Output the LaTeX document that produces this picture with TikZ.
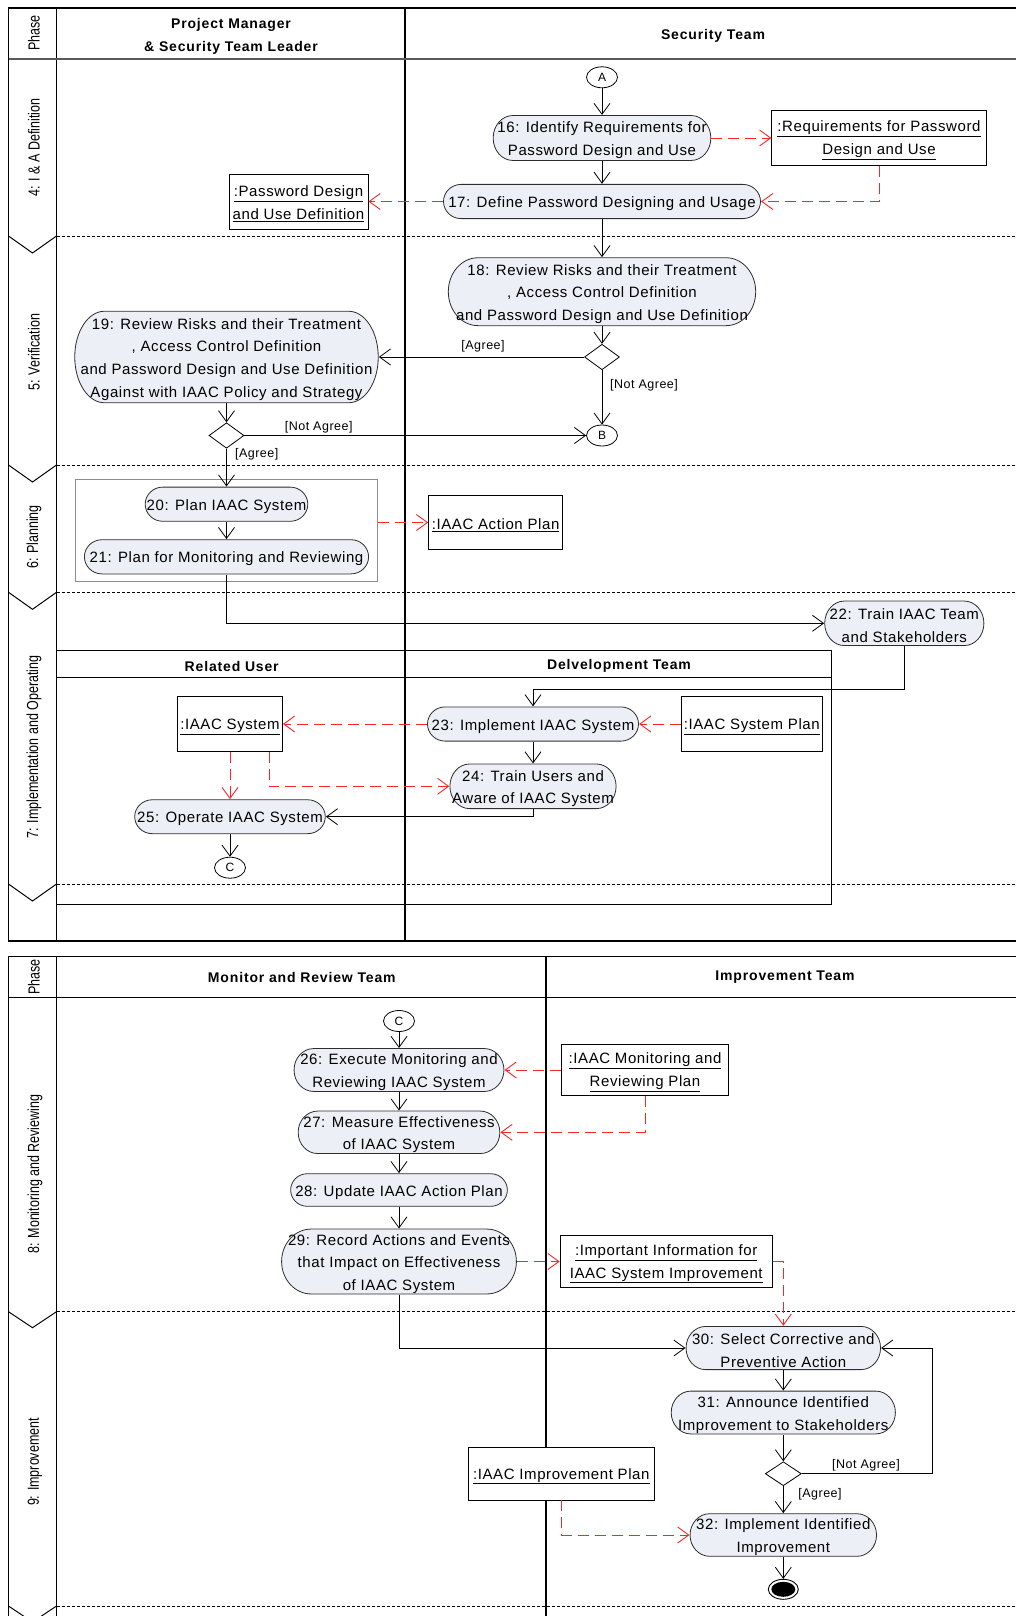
\documentclass[tikz,border=0pt]{standalone}
\usepackage{graphicx}
\usepackage{fontspec}
\setmainfont{Liberation Sans}[LetterSpace=4]
\newfontfamily\headfont{Liberation Sans}[LetterSpace=6]
\newfontfamily\narrowfont{Liberation Sans}
\usetikzlibrary{arrows.meta,shapes.geometric,calc}

\definecolor{actfill}{RGB}{236,239,245}
\definecolor{actline}{RGB}{45,45,45}
\definecolor{depred}{RGB}{245,40,40}
\definecolor{grpline}{RGB}{140,140,140}
\definecolor{hdrline}{RGB}{90,90,90}

\tikzset{
  txt/.style={font=\fontsize{15}{22.7}\selectfont, align=center},
  % activity: rectangle node whose stadium outline is painted by a path picture
  act/.style n args={3}{txt, rectangle, inner sep=0pt, minimum width=#1, minimum height=#2,
    /utils/exec={\def\actrx{#3}},
    path picture={
      \path[draw=actline, fill=actfill, line width=0.8pt]
        let \p1=(path picture bounding box.south west),
            \p2=(path picture bounding box.north east) in
        (\x1+\actrx,\y2-0.4pt) -- (\x2-\actrx,\y2-0.4pt)
        arc[start angle=90, end angle=-90, x radius=\actrx-0.4pt, y radius={(\y2-\y1)/2-0.4pt}]
        -- (\x1+\actrx,\y1+0.4pt)
        arc[start angle=270, end angle=90, x radius=\actrx-0.4pt, y radius={(\y2-\y1)/2-0.4pt}]
        -- cycle;
    }},
  obj/.style={txt, rectangle, draw=black, line width=0.9pt, fill=white, inner sep=0pt},
  dia/.style={diamond, draw=black, line width=0.8pt, fill=white, minimum width=35pt, minimum height=25.5pt, inner sep=0pt},
  circ/.style={ellipse, draw=black, line width=0.8pt, fill=white, minimum width=31pt, minimum height=21pt, inner sep=0pt, font=\fontsize{12}{14}\selectfont},
  grpbox/.style={rectangle, draw=grpline, line width=0.9pt, inner sep=0pt},
  hdr/.style={font=\headfont\fontsize{14}{23}\selectfont\bfseries, align=center, inner sep=0pt},
  phaselbl/.style={rotate=90, font=\narrowfont\fontsize{16}{18}\selectfont, inner sep=0pt},
  grd/.style={font=\fontsize{12.5}{15}\selectfont, inner sep=1pt},
  frame/.style={draw=black, line width=1.3pt},
  sepline/.style={draw=black, line width=0.7pt, dash pattern=on 3pt off 2pt},
  chevron/.style={draw=black, line width=1pt},
  flow/.style={draw=black, line width=0.8pt, -{Straight Barb[length=11pt, width=16pt, line width=0.8pt]}},
  dep/.style={draw=depred, line width=0.9pt, dash pattern=on 11pt off 6pt, -{Straight Barb[length=11pt, width=16pt, line width=0.9pt]}},
}
\newcommand{\narrow}[1]{\scalebox{0.78}[1]{#1}}
% invisible strut that lowers the text block a little inside its shape
\newcommand{\txtstrut}{\rule{0pt}{15.5pt}}

\begin{document}
\begin{tikzpicture}[x=1pt, y=-1pt]
\useasboundingbox (0,0) rectangle (1015,1616);

% ---------- upper swimlane frame ----------
\draw[frame] (1016,8) -- (8.5,8) -- (8.5,941) -- (1016,941);
\draw[frame] (56.5,8) -- (56.5,941);
\draw[frame] (405,8) -- (405,941);
\draw[line width=1.3pt, draw=hdrline] (8.5,59) -- (1016,59);
\foreach \yy in {236,465,592.3,884}{
  \draw[sepline] (56.5,\yy) -- (1016,\yy);
  \draw[chevron] (8.5,\yy) -- (32.5,\yy+17) -- (56.5,\yy);
}
% nested lanes
\draw[line width=1pt] (56.5,650.7) rectangle (831.6,904);
\draw[line width=1pt] (56.5,677.7) -- (831.6,677.7);

% ---------- lower swimlane frame ----------
\draw[frame] (1016,956.5) -- (8.5,956.5) -- (8.5,1630);
\draw[frame] (56.5,956.5) -- (56.5,1630);
\draw[frame] (546,956.5) -- (546,1630);
\draw[frame] (8.5,997.3) -- (1016,997.3);
\foreach \yy in {1311.7,1606}{
  \draw[sepline] (56.5,\yy) -- (1016,\yy);
  \draw[chevron] (8.5,\yy) -- (32.5,\yy+16) -- (56.5,\yy);
}

% ---------- headers ----------
\node[hdr] (hPM) at (231,36.5) {Project Manager\\\& Security Team Leader};
\node[hdr] (hST) at (713,35.5) {Security Team};
\node[hdr] (hRU) at (231.7,666) {Related User};
\node[hdr] (hDT) at (619,666) {Delvelopment Team};
\node[hdr] (hMR) at (301.8,977) {Monitor and Review Team};
\node[hdr] (hIT) at (785,977) {Improvement Team};

% ---------- phase labels ----------
\node[phaselbl] (p0) at (34,33) {\narrow{Phase}};
\node[phaselbl] (p4) at (34,147.5) {\narrow{4: I \& A Definition}};
\node[phaselbl] (p5) at (34,352) {\narrow{5: Verification}};
\node[phaselbl] (p6) at (34,537) {\narrow{6: Planning}};
\node[phaselbl] (p7) at (34,747) {\narrow{7: Implementation and Operating}};
\node[phaselbl] (q0) at (34,977) {\narrow{Phase}};
\node[phaselbl] (p8) at (35,1174) {\narrow{8: Monitoring and Reviewing}};
\node[phaselbl] (p9) at (35,1462) {\narrow{9: Improvement}};

% ---------- phase 4 ----------
\node[circ] (A) at (602,77.3) {A};
\node[act={218.5pt}{45.7pt}{20pt}] (n16) at (602,138) {\txtstrut16: Identify Requirements for\\Password Design and Use};
\node[obj, minimum width=214.5pt, minimum height=54.3pt] (reqbox) at (879,138) {\txtstrut\underline{:Requirements for Password}\\\underline{Design and Use}};
\node[act={317.8pt}{35pt}{18pt}] (n17) at (602,201.5) {\txtstrut17: Define Password Designing and Usage};
\node[obj, minimum width=139pt, minimum height=55pt] (pwbox) at (298.5,201.5) {\txtstrut\underline{:Password Design}\\\underline{and Use Definition}};

% ---------- phase 5 ----------
\node[act={308.2pt}{68.7pt}{30pt}] (n18) at (602,291.7) {\txtstrut18: Review Risks and their Treatment\\, Access Control Definition\\and Password Design and Use Definition};
\node[dia] (d18) at (602,357) {};
\node[act={304.3pt}{92.3pt}{30pt}] (n19) at (226.5,357) {\txtstrut19: Review Risks and their Treatment\\, Access Control Definition\\and Password Design and Use Definition\\Against with IAAC Policy and Strategy};
\node[circ] (B) at (602,435.5) {B};
\node[dia] (d19) at (226.5,435.5) {};
\node[grd] (g1) at (483,346.5) {[Agree]};
\node[grd, anchor=west] (g2) at (609,385) {[Not Agree]};
\node[grd] (g3) at (318.7,427.5) {[Not Agree]};
\node[grd] (g4) at (256.7,454.5) {[Agree]};

% ---------- phase 6 ----------
\node[grpbox, minimum width=302pt, minimum height=102pt] (grp) at (226.5,530) {};
\node[act={163.4pt}{35pt}{18pt}] (n20) at (226.5,504.2) {\txtstrut20: Plan IAAC System};
\node[act={285pt}{35pt}{18pt}] (n21) at (226.5,556.8) {\txtstrut21: Plan for Monitoring and Reviewing};
\node[obj, minimum width=134pt, minimum height=54.3pt] (actplan) at (495.6,522.5) {\txtstrut\underline{:IAAC Action Plan}};

% ---------- phase 7 ----------
\node[act={160pt}{45.3pt}{20pt}] (n22) at (904.3,623.3) {\txtstrut22: Train IAAC Team\\and Stakeholders};
\node[act={211.8pt}{35pt}{18pt}] (n23) at (533,724) {\txtstrut23: Implement IAAC System};
\node[obj, minimum width=105pt, minimum height=54.3pt] (sysbox) at (230,724) {\txtstrut\underline{:IAAC System}};
\node[obj, minimum width=141.7pt, minimum height=54.3pt] (sysplan) at (751.8,724) {\txtstrut\underline{:IAAC System Plan}};
\node[act={167pt}{45.4pt}{20pt}] (n24) at (533,786.3) {\txtstrut24: Train Users and\\Aware of IAAC System};
\node[act={191.4pt}{34.7pt}{18pt}] (n25) at (230,816.7) {\txtstrut25: Operate IAAC System};
\node[circ] (C1) at (230,867.7) {C};
\coordinate (j22) at (904.3,689);

% ---------- phase 8 ----------
\node[circ] (C2) at (399,1021) {C};
\node[act={210.7pt}{43.7pt}{20pt}] (n26) at (399,1070) {\txtstrut26: Execute Monitoring and\\Reviewing IAAC System};
\node[obj, minimum width=167.4pt, minimum height=51.7pt] (monplan) at (645,1070) {\txtstrut\underline{:IAAC Monitoring and}\\\underline{Reviewing Plan}};
\node[act={202.5pt}{43.3pt}{20pt}] (n27) at (399,1132.3) {\txtstrut27: Measure Effectiveness\\of IAAC System};
\node[act={217.5pt}{33.4pt}{17pt}] (n28) at (399,1190) {\txtstrut28: Update IAAC Action Plan};
\node[act={235.6pt}{65.7pt}{30pt}] (n29) at (399,1261.5) {\txtstrut29: Record Actions and Events\\that Impact on Effectiveness\\of IAAC System};
\node[obj, minimum width=212.3pt, minimum height=51.6pt] (infobox) at (666.2,1261.5) {\txtstrut\underline{:Important Information for}\\\underline{IAAC System Improvement}};

% ---------- phase 9 ----------
\node[act={195.3pt}{44pt}{20pt}] (n30) at (783.3,1348) {\txtstrut30: Select Corrective and\\Preventive Action};
\node[act={225pt}{43.6pt}{20pt}] (n31) at (783.3,1412.5) {\txtstrut31: Announce Identified\\Improvement to Stakeholders};
\node[dia, minimum width=36pt, minimum height=24pt] (d31) at (783.3,1473.7) {};
\node[obj, minimum width=186.1pt, minimum height=52.3pt] (impplan) at (561.3,1473.8) {\txtstrut\underline{:IAAC Improvement Plan}};
\node[act={187.3pt}{43.4pt}{20pt}] (n32) at (783.3,1535) {\txtstrut32: Implement Identified\\Improvement};
\node[ellipse, draw=black, line width=0.9pt, fill=white, minimum width=30pt, minimum height=20pt, inner sep=0pt] (fin) at (783.3,1589.3) {};
\node[ellipse, fill=black, minimum width=24pt, minimum height=15pt, inner sep=0pt] (finc) at (fin.center) {};
\node[grd] (g5) at (866,1465) {[Not Agree]};
\node[grd] (g6) at (820,1494.5) {[Agree]};
\coordinate (loop) at (932.3,1473.7);

% ---------- control flow ----------
\draw[flow] (A) -- (n16);
\draw[flow] (n16) -- (n17);
\draw[flow] (n17) -- (n18);
\draw[flow] (n18) -- (d18);
\draw[flow] (d18) -- (n19);
\draw[flow] (d18) -- (B);
\draw[flow] (n19) -- (d19);
\draw[flow] (d19) -- (B);
\draw[flow] (d19) -- (n20);
\draw[flow] (n20) -- (n21);
\draw[flow] (n21.south) |- (n22.west);
\draw[flow] (n22.south) -- (j22) -| (n23.north);
\draw[flow] (n23) -- (n24);
\draw[flow] (n24.south) |- (n25.east);
\draw[flow] (n25) -- (C1);
\draw[flow] (C2) -- (n26);
\draw[flow] (n26) -- (n27);
\draw[flow] (n27) -- (n28);
\draw[flow] (n28) -- (n29);
\draw[flow] (n29.south) |- (n30.west);
\draw[flow] (n30) -- (n31);
\draw[flow] (n31) -- (d31);
\draw[flow] (d31.east) -- (loop) |- (n30.east);
\draw[flow] (d31) -- (n32);
\draw[flow] (n32) -- (fin);

% ---------- object flow ----------
\draw[dep] (n16) -- (reqbox);
\draw[dep] (reqbox.south) |- (n17.east);
\draw[dep] (n17) -- (pwbox);
\draw[dep] (grp.east |- actplan.west) -- (actplan.west);
\draw[dep] (n23) -- (sysbox);
\draw[dep] (sysplan) -- (n23);
\draw[dep] (sysbox) -- (n25);
\draw[dep] ([xshift=39pt]sysbox.south) |- (n24.west);
\draw[dep] (monplan) -- (n26);
\draw[dep] (monplan.south) |- (n27.east);
\draw[dep] (n29) -- (infobox);
\draw[dep] (infobox.east) -| (n30.north);
\draw[dep] (impplan.south) |- (n32.west);
\end{tikzpicture}
\end{document}
